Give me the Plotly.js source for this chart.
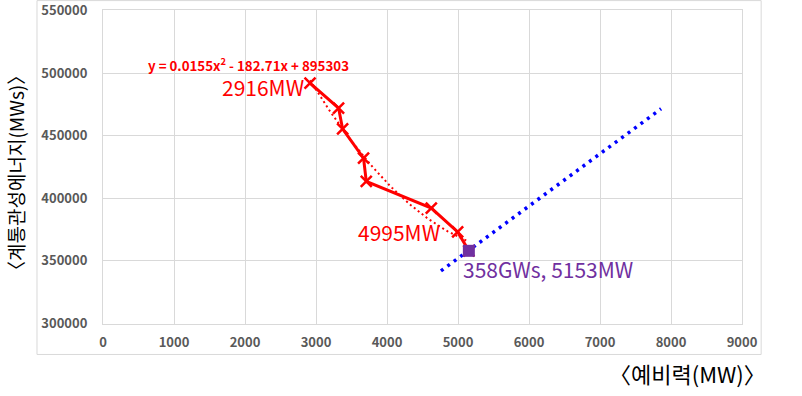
<!DOCTYPE html>
<html><head><meta charset="utf-8">
<script src="https://cdn.plot.ly/plotly-3.0.1.min.js"></script>
<style>html,body{margin:0;padding:0;background:#fff}#c{width:802px;height:396px}</style>
</head><body><div id="c"></div>
<script>
// data
const reserveMW = [2916, 3318, 3375, 3670, 3708, 4624, 4995, 5153];
const inertiaMWs = [492000, 472100, 455400, 432000, 413500, 392200, 373100, 358000];
const pointMW = [5153];
const pointMWs = [358000];
// trendlines as printed on the chart
const polyCoef = [895303, -182.71, 0.0155];   // c0 + c1 x + c2 x^2
const polyRange = [2916, 5153];
const linCoef = [142879, 41.814];             // c0 + c1 x
const linRange = [4760, 7860];
const xTicks = [0,1000,2000,3000,4000,5000,6000,7000,8000,9000];
const yTicks = [300000,350000,400000,450000,500000,550000];

function sample(r, n){const a=[];for(let i=0;i<=n;i++)a.push(r[0]+(r[1]-r[0])*i/n);return a;}
const px = sample(polyRange, 60), py = px.map(x=>polyCoef[0]+polyCoef[1]*x+polyCoef[2]*x*x);
const lx = sample(linRange, 2), ly = lx.map(x=>linCoef[0]+linCoef[1]*x);

const F = '"Malgun Gothic","Noto Sans CJK KR","Noto Sans",sans-serif';
const traces = [
 {x:px,y:py,mode:'lines',line:{color:'#FF0000',width:2,dash:'2px,3px'},hoverinfo:'skip'},
 {x:lx,y:ly,mode:'lines',line:{color:'#0000FF',width:3.5,dash:'3px,5px'},hoverinfo:'skip'},
 {x:reserveMW,y:inertiaMWs,mode:'lines+markers',line:{color:'#FF0000',width:3},
  marker:{symbol:'x-thin-open',size:11,color:'#FF0000',line:{color:'#FF0000',width:2.5}}},
 {x:pointMW,y:pointMWs,mode:'markers',marker:{symbol:'square',size:12,color:'#7030A0'}}
];
const ann = (x,y,t,c,s,xa,b)=>({x,y,xref:'x',yref:'y',text:t,showarrow:false,xanchor:xa,yanchor:'middle',borderpad:0,
  font:{family:F,size:s,color:c,weight:b?'bold':'normal'}});
const tf = {family:F,size:13,color:'#595959',weight:'bold'};
const layout = {
 width:802,height:396,showlegend:false,paper_bgcolor:'#fff',plot_bgcolor:'#fff',
 margin:{l:103,r:60,t:10,b:72},
 xaxis:{range:[0,9000],tickvals:xTicks,ticktext:xTicks.map(String),showgrid:true,gridcolor:'#d9d9d9',gridwidth:1,zeroline:false,
   showline:true,linecolor:'#d9d9d9',mirror:true,ticks:'',ticklabelstandoff:6,tickfont:tf},
 yaxis:{range:[299500,550500],tickvals:yTicks,ticktext:yTicks.map(String),showgrid:true,gridcolor:'#d9d9d9',gridwidth:1,zeroline:false,
   showline:true,linecolor:'#d9d9d9',mirror:true,ticks:'',ticklabelstandoff:12,tickfont:tf},
 shapes:[{type:'rect',xref:'paper',yref:'paper',x0:-0.1033,x1:1.03,y0:-0.097,y1:1.03,line:{color:'#d9d9d9',width:1}}],
 annotations:[
  ann(2046,507200,'y = 0.0155x<sup>2</sup> - 182.71x + 895303','#FF0000',13.3,'center',true),
  ann(2849,488800,'2916MW','#FF0000',21,'right',false),
  ann(4754,372900,'4995MW','#FF0000',21,'right',false),
  ann(5061,343400,'358GWs, 5153MW','#7030A0',21,'left',false),
  ann(9004,502300,'y = 41.814x + 142879','#0000FF',13.3,'right',true),
  ann(9018,486400,'491GWs, 7919MW','#0000FF',21,'right',false),
  {xref:'paper',yref:'paper',x:-0.137,y:0.4825,text:'〈계통관성에너지(MWs)〉',textangle:-90,showarrow:false,
   xanchor:'center',yanchor:'middle',font:{family:F,size:19,color:'#000'}},
  {xref:'paper',yref:'paper',x:0.914,y:-0.155,text:'〈예비력(MW)〉',showarrow:false,
   xanchor:'center',yanchor:'middle',font:{family:F,size:22,color:'#000'}}
 ]
};
Plotly.newPlot('c',traces,layout,{displayModeBar:false,staticPlot:true});
</script></body></html>
